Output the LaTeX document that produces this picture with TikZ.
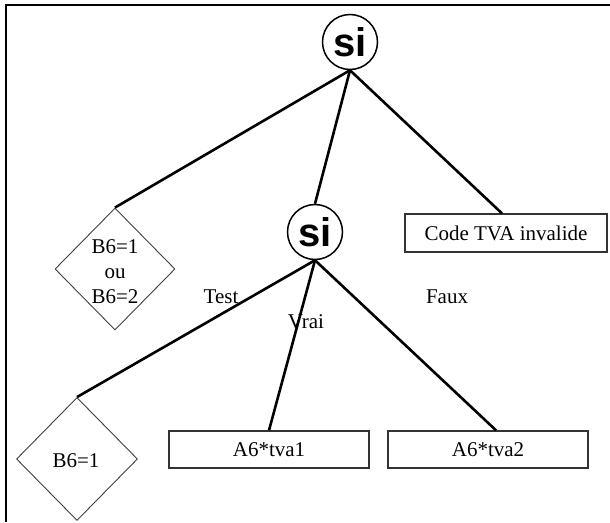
\documentclass[tikz,border=0pt]{standalone}
\usepackage{fontspec}
\setmainfont{Liberation Serif}
\newfontfamily\sifont{Liberation Sans}
\usetikzlibrary{shapes.geometric,calc}
\tikzset{
  frameline/.style={line width=2.6pt, black},
  conn/.style={line width=2.6pt, black},
  sinode/.style={circle, draw, line width=1.5pt, minimum size=55pt, inner sep=0pt, font=\sifont\bfseries\fontsize{40}{42}\selectfont},
  choice/.style={diamond, draw=black!75, line width=0.9pt, inner sep=0pt},
  result/.style={rectangle, draw=black!80, line width=1.3pt, inner sep=0pt, font=\fontsize{21}{25}\selectfont},
  lbl/.style={font=\fontsize{21}{25}\selectfont, inner sep=0pt},
}
\begin{document}
\begin{tikzpicture}[x=1pt,y=-1pt]
\useasboundingbox (0,0) rectangle (610,522);
\fill[white] (0,0) rectangle (610,522);
% frame
\coordinate (fc) at (6,5);
\coordinate (fr) at (610,5);
\coordinate (fb) at (6,522);
\draw[frameline] (fr) -- (fc) -- (fb);
% nodes
\node[sinode] (si1) at (350,42) {si};
\node[sinode] (si2) at (315,232) {si};
\node[result, minimum width=202pt, minimum height=38pt] (code) at (506,233) {Code TVA invalide};
\node[choice, minimum width=120pt, minimum height=122pt] (d1) at (115,269) {};
\node[lbl, align=center] (d1t) at (115,272) {B6=1\\ou\\B6=2};
\node[choice, minimum width=121pt, minimum height=123pt] (d2) at (77,459) {};
\node[lbl] (d2t) at (76,461) {B6=1};
\node[result, minimum width=200pt, minimum height=37pt] (t1) at (269,449.5) {A6*tva1};
\node[result, minimum width=200pt, minimum height=37pt] (t2) at (488,449.5) {A6*tva2};
\node[lbl] (test) at (221,297) {Test};
\node[lbl] (vrai) at (306,322) {Vrai};
\node[lbl] (faux) at (447,297) {Faux};
% connectors
\draw[conn] (si1.south) -- (d1.north);
\draw[conn] (si1.south) -- (si2.north);
\draw[conn] (si1.south) -- ($(code.north west)!0.48!(code.north east)$);
\draw[conn] (si2.south) -- (d2.north);
\draw[conn] (si2.south) -- (t1.north);
\draw[conn] (si2.south) -- ($(t2.north west)!0.54!(t2.north east)$);
\end{tikzpicture}
\end{document}
